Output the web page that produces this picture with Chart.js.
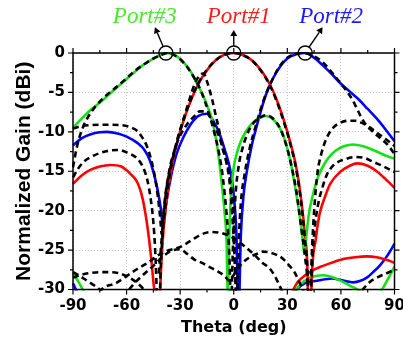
<!DOCTYPE html>
<html>
<head>
<meta charset="utf-8">
<script src="https://cdn.jsdelivr.net/npm/chart.js@4"></script>
<style>
  body { margin: 0; background: #fff; }
</style>
</head>
<body>
<canvas id="chart" width="403" height="340"></canvas>
<script>
// measured, co-pol (solid)
const thetaP3 = [-90,-85,-80,-75,-70,-65,-60,-55,-50,-45,-40,-38,-35,-32,-28,-24,-21,-18,-15,-12,-9.5,-8,-6.5,-5,-4,-3.3,-2.6,-1.8,-1,0,2,4,7,10,14,18,22,26,29,31.5,34,36.5,38.5,39.5,40.5,42,44,46.5,49,53,57,62,67,72,77,82,86,90];
const gainP3 = [-9.5,-8.3,-7.2,-6.3,-5.3,-4.3,-3.3,-2.3,-1.4,-0.7,-0.15,0,-0.1,-0.4,-1.2,-2.4,-3.7,-5.0,-6.6,-8.6,-11.5,-14,-17,-20.5,-24,-31,-24,-19,-16.5,-14.5,-12.5,-11.2,-9.9,-9.0,-8.3,-8.0,-8.4,-9.6,-11.3,-13.5,-16.5,-20,-23.5,-25.5,-23.5,-20.5,-18.3,-16.2,-14.8,-13.3,-12.4,-11.8,-11.6,-11.8,-12.2,-12.7,-13.1,-13.4];

const thetaP1 = [-90,-85,-80,-75,-69,-63,-58,-54,-51,-49,-47.5,-46,-45,-44,-42.8,-41.5,-40,-38,-35.5,-32,-28,-24,-20,-15,-10,-5,0,5,10,15,20,24,28,31.5,35,38,40,41.3,42.3,43.5,46,48,51,54,60,65,69,75,80,85,90];
const gainP1 = [-16.6,-15.5,-14.8,-14.4,-14.2,-14.4,-15.3,-16.4,-18.5,-21,-23.5,-26.5,-29,-32,-45,-32,-24.5,-19.5,-15.5,-11.6,-8.5,-6.0,-4.0,-2.2,-0.9,-0.2,0,-0.25,-0.9,-2.1,-3.9,-5.9,-8.5,-11.2,-14.5,-19,-23.5,-28,-45,-30,-23.5,-20.5,-18.3,-16.6,-15.0,-14.3,-14.0,-14.3,-15.0,-16.0,-17.1];

const thetaP2 = [-90,-85,-80,-75,-71,-65,-60,-54,-50,-47,-44.5,-42.5,-41,-39.5,-38,-35,-32,-28,-24,-20,-15,-11,-8,-5,-2,0,1.5,2.7,4,5.5,7.5,10,12,15,18,22,26,30,35,40,45,50,55,60,65,70,75,80,85,90];
const gainP2 = [-11.7,-10.8,-10.3,-10.05,-10.0,-10.2,-10.6,-11.4,-12.3,-13.6,-15.5,-17.5,-19.5,-22,-19.3,-15.5,-12.8,-10.6,-9.0,-8.0,-7.7,-8.8,-10.2,-12.3,-14.8,-18,-23,-33,-23,-18,-14.8,-11.8,-10.0,-7.5,-5.3,-3.2,-1.7,-0.7,-0.15,0,-0.6,-1.6,-2.7,-3.9,-4.9,-5.9,-7.1,-8.3,-9.7,-11.2];

// measured, cross-pol (solid)
const thetaX3 = [-90,-87,-84,-80,-70,30,33,35,38,42,46,50,55,60,65,70,75,79,83,86.5,90];
const gainX3 = [-28,-29,-30.2,-31.5,-36,-36,-31,-30,-29.2,-28.6,-28.3,-28.2,-28.4,-28.9,-29.5,-30.1,-30.9,-31,-30,-28.6,-27.1];

const thetaX1 = [25,30,33.4,36,40,44,50,56,62,68,74.5,80,85,90];
const gainX1 = [-35,-32,-30,-29,-28.2,-27.6,-27,-26.5,-26.1,-25.9,-25.8,-25.9,-26.2,-26.6];

const thetaX2 = [-90,-88,-85,-70,30,33,35.4,40,46.5,55,60,64,67,71,74.5,78,82,86,90];
const gainX2 = [-29.2,-30.2,-31.5,-36,-36,-31,-30,-29.2,-28.9,-28.6,-28.8,-29.0,-29.1,-28.9,-28.5,-27.8,-26.9,-25.7,-24.2];

// simulated (dashed)
const thetaS3 = [-90,-88,-86,-84,-81,-77.5,-72,-65,-60,-55,-50,-45,-40,-37,-34,-30,-26,-22,-18,-14,-11,-8,-6,-4,-2.5,-1.5,-0.5,1,3,5,7,10,14,18,22,26,29,32,35,38,40,41.5,42.2,43,44,45.5,47,49,52,56,60,64,68,72,76,80,85,90];
const gainS3 = [-14.5,-12.1,-10.4,-9.2,-7.9,-6.8,-5.5,-4.2,-3.2,-2.2,-1.4,-0.7,-0.2,0,-0.2,-0.8,-1.8,-3.2,-5.0,-7.6,-10.0,-13.0,-16.0,-20.5,-25.5,-32,-25,-18,-14,-12,-10.6,-9.2,-8.3,-7.9,-8.3,-9.6,-11.4,-14.0,-17.5,-22.5,-26,-30,-36,-30,-24,-18.5,-15,-12.8,-10.8,-9.4,-8.8,-8.6,-8.6,-8.9,-9.4,-10.1,-10.9,-11.8];

const thetaS1 = [-90,-87.5,-84,-80,-75,-70,-65,-60,-54,-51,-48.5,-46.5,-45,-44,-43.2,-42.4,-41,-40,-38,-35.5,-32,-28,-24,-20,-15,-10,-5,0,5,10,15,20,24,28,31.5,35,38,40,41.5,42.5,43.5,45,47,50,52,56,62,68,73,78,84,90];
const gainS1 = [-15.8,-14.8,-13.8,-13.2,-12.7,-12.4,-12.3,-12.6,-13.4,-14.4,-16,-18.5,-21.5,-25,-30,-40,-28,-23.5,-19,-15,-11.3,-8.4,-5.9,-3.9,-2.1,-0.9,-0.2,0,-0.25,-0.9,-2.2,-4.0,-6.1,-8.7,-11.4,-14.8,-19.5,-24,-29,-40,-29,-23,-19.5,-16.8,-15.5,-14.2,-13.5,-13.2,-13.3,-13.8,-14.4,-15.1];

const thetaS2 = [-90,-86,-80,-75,-70,-63,-58,-54,-51,-48.5,-46.5,-44.5,-42.5,-41.2,-40.3,-39.3,-37.5,-35.5,-33.5,-30,-26,-22,-19,-17,-15,-12,-10,-8,-6.5,-4.5,-3,-1,0,0.8,1.6,2.6,4,6,9,12,15,18,22,26,30,35,39,44,50,55,60,65,68,71,74,78,82,86,90];
const gainS2 = [-9.6,-9.3,-9.15,-9.1,-9.1,-9.15,-9.4,-9.9,-10.8,-11.9,-13.3,-15.3,-18.2,-20.8,-23,-20.5,-17,-14.6,-12.8,-9.8,-6.8,-4.0,-2.8,-2.6,-3.6,-6.0,-8.0,-10,-11.9,-13.4,-14.8,-18,-21,-27,-33,-25,-19,-15.5,-12,-9.5,-7.2,-5.2,-3.2,-1.6,-0.6,-0.1,0,-0.3,-1.2,-2.5,-3.9,-5.4,-6.6,-8.0,-9.1,-10.0,-10.8,-11.6,-12.8];

const thetaS2b = [-42,-40.5,-39,-36,-33,-30,-26,-22,-19,-16,-13,-10,-7,-4.5,-2.5,-1,0.5,1.8];
const gainS2b = [-28,-24,-19.5,-14.8,-12.2,-10.5,-9.0,-8.0,-7.4,-7.4,-8.2,-9.6,-11.4,-13.5,-16,-20,-26,-34];

const thetaSX1 = [-78,-74,-66,-60,-54,-48,-42,-36,-30,-24,-18,-12,-6,0,6,12,16,20,23,25,27,30];
const gainSX1 = [-31.5,-30,-29.2,-28.3,-27.4,-26.6,-25.6,-25,-24.6,-23.8,-23,-22.7,-22.9,-23.5,-24.5,-25.7,-26.6,-27.3,-28.3,-29.2,-30.2,-32];

const thetaSX2 = [-62,-56,-50,-45,-40,-35,-30,-26,-22,-18,-14,-9,-5,-2.5,-1,1,4.6,9,13.9,16,20,24,27,31.6,34,36.2,39,45,55,65,70,73,77,81,85,90];
const gainSX2 = [-31,-29.3,-28,-27,-25.9,-25.1,-24.9,-25.5,-26.2,-26.6,-27.1,-27.7,-28.3,-28.9,-28.5,-27.8,-26.7,-25.9,-25.4,-25.2,-25.3,-25.6,-26,-27.1,-27.8,-28.8,-30.2,-33,-34,-32,-30.6,-29.8,-28.9,-28.4,-28,-27.5];

const thetaSX3 = [-90,-85,-80,-75,-70,-65,-60,-55,-50,-46];
const gainSX3 = [-28.5,-28.1,-27.9,-27.8,-27.8,-27.9,-28.3,-29,-30.1,-31.5];

const thetaSX4 = [-90,-86,-82,-78,-74,-70];
const gainSX4 = [-27.8,-28.3,-28.9,-29.5,-30.2,-31.2];

// beam peaks and labels
const peakTheta = [-38, 0, 40];
const portNames = ['Port#3', 'Port#1', 'Port#2'];
const portLabelTheta = [-49.8, 2.8, 54.5];
const portColors = ['#4de62e', '#ff1a1a', '#1a1aff'];

const GREEN = '#16e016', RED = '#ff0000', BLUE = '#0000ff';

function pts(t, g) {
  return t.map((v, i) => ({ x: v, y: g[i] }));
}

function solid(t, g, color) {
  return { data: pts(t, g), borderColor: color, borderWidth: 2.6, order: 1 };
}

function dashed(t, g) {
  return { data: pts(t, g), borderColor: '#000', borderWidth: 2.6, borderDash: [6, 4], order: 0 };
}

const datasets = [
  solid(thetaP3, gainP3, GREEN),
  solid(thetaP1, gainP1, RED),
  solid(thetaP2, gainP2, BLUE),
  solid(thetaX3, gainX3, GREEN),
  solid(thetaX1, gainX1, RED),
  solid(thetaX2, gainX2, BLUE),
  dashed(thetaS3, gainS3),
  dashed(thetaS1, gainS1),
  dashed(thetaS2, gainS2),
  dashed(thetaS2b, gainS2b),
  dashed(thetaSX1, gainSX1),
  dashed(thetaSX2, gainSX2),
  dashed(thetaSX3, gainSX3),
  dashed(thetaSX4, gainSX4)
];

function arrow(ctx, x1, y1, x2, y2) {
  const a = Math.atan2(y2 - y1, x2 - x1);
  const bx = x2 - 6 * Math.cos(a), by = y2 - 6 * Math.sin(a);
  ctx.beginPath();
  ctx.moveTo(x1, y1);
  ctx.lineTo(bx, by);
  ctx.stroke();
  ctx.beginPath();
  ctx.moveTo(x2, y2);
  ctx.lineTo(bx + 3.5 * Math.sin(a), by - 3.5 * Math.cos(a));
  ctx.lineTo(bx - 3.5 * Math.sin(a), by + 3.5 * Math.cos(a));
  ctx.closePath();
  ctx.fill();
}

const overlay = {
  id: 'overlay',
  afterDraw(chart) {
    const { ctx, chartArea: a, scales: { x, y } } = chart;
    ctx.save();
    ctx.strokeStyle = '#000';
    ctx.fillStyle = '#000';
    ctx.lineWidth = 1.5;
    ctx.strokeRect(a.left, a.top, a.right - a.left, a.bottom - a.top);

    ctx.lineWidth = 1.2;
    ctx.beginPath();
    for (let v = -90; v <= 90; v += 15) {
      const px = x.getPixelForValue(v);
      const len = v % 30 === 0 ? 5 : 3;
      ctx.moveTo(px, a.bottom); ctx.lineTo(px, a.bottom + len);
      ctx.moveTo(px, a.top); ctx.lineTo(px, a.top - len);
    }
    for (let v = -30; v <= 0; v += 2.5) {
      const py = y.getPixelForValue(v);
      const len = v % 5 === 0 ? 5 : 3;
      ctx.moveTo(a.left, py); ctx.lineTo(a.left - len, py);
      ctx.moveTo(a.right, py); ctx.lineTo(a.right + len, py);
    }
    ctx.stroke();

    // circles on the beam peaks + arrows
    const dirs = [-23, 0, 34];
    const lens = [28, 23, 31];
    ctx.lineWidth = 1.4;
    peakTheta.forEach((t, i) => {
      const cx = x.getPixelForValue(t), cy = y.getPixelForValue(0);
      ctx.beginPath();
      ctx.arc(cx, cy, 7, 0, Math.PI * 2);
      ctx.stroke();
      const r = dirs[i] * Math.PI / 180;
      const dx = Math.sin(r), dy = -Math.cos(r);
      arrow(ctx, cx + dx * 7, cy + dy * 7, cx + dx * lens[i], cy + dy * lens[i]);
    });

    ctx.font = 'italic 23px "Liberation Serif"';
    ctx.textAlign = 'center';
    ctx.textBaseline = 'alphabetic';
    portNames.forEach((name, i) => {
      ctx.fillStyle = portColors[i];
      ctx.fillText(name, x.getPixelForValue(portLabelTheta[i]), 23);
    });
    ctx.restore();
  }
};

const tickFont = { family: 'DejaVu Sans', size: 15, weight: 'bold' };

new Chart(document.getElementById('chart'), {
  type: 'line',
  data: { datasets },
  options: {
    responsive: false,
    animation: false,
    devicePixelRatio: 1,
    layout: { padding: { top: 53, right: 8.5, left: 0, bottom: 0 } },
    plugins: { legend: { display: false }, tooltip: { enabled: false } },
    elements: {
      point: { radius: 0 },
      line: { cubicInterpolationMode: 'monotone', fill: false }
    },
    datasets: { line: { clip: 1 } },
    scales: {
      x: {
        type: 'linear', min: -90, max: 90,
        afterFit(s) { s.height = 50.5; s.paddingLeft = 0; s.paddingRight = 0; },
        ticks: { stepSize: 30, font: tickFont, color: '#000', padding: 8, maxRotation: 0 },
        grid: { color: '#c4c4c4', lineWidth: 1, drawTicks: false },
        border: { display: false, dash: [1, 2] },
        title: {
          display: true, text: 'Theta (deg)', color: '#000',
          font: { family: 'DejaVu Sans', size: 16, weight: 'bold' },
          padding: { top: 0, bottom: 3 }
        }
      },
      y: {
        min: -30, max: 0,
        afterFit(s) { s.width = 73; s.paddingTop = 0; s.paddingBottom = 0; },
        ticks: { stepSize: 5, font: tickFont, color: '#000', padding: 8 },
        grid: { color: '#c4c4c4', lineWidth: 1, drawTicks: false },
        border: { display: false, dash: [1, 2] },
        title: {
          display: true, text: 'Normalized Gain (dBi)', color: '#000',
          font: { family: 'Liberation Sans', size: 21, weight: 'bold' },
          padding: { top: 12, bottom: 0 }
        }
      }
    }
  },
  plugins: [overlay]
});
</script>
</body>
</html>
